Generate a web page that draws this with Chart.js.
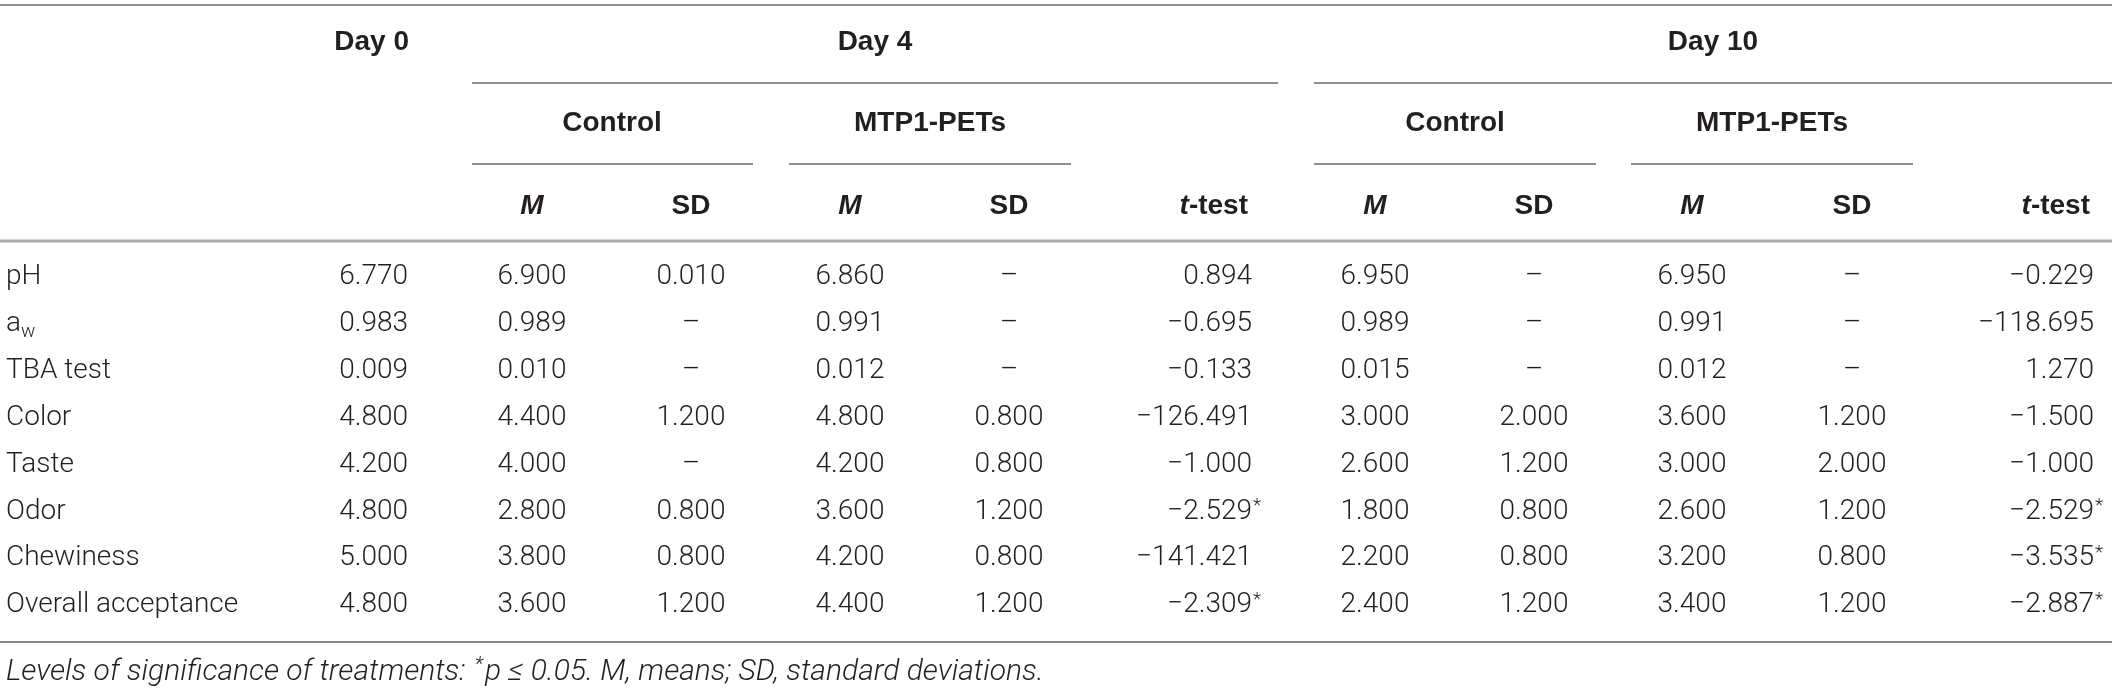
<!DOCTYPE html>
<html><head><meta charset="utf-8">
<script src="https://cdn.jsdelivr.net/npm/chart.js@4.4.1/dist/chart.umd.min.js"></script>
<style>html,body{margin:0;padding:0;background:#fff;overflow:hidden}#wrap{width:2118px;height:691px}</style>
</head><body><div id="wrap"><canvas id="c" width="2118" height="691"></canvas></div>
<script>
// ---- data ----
const rowLabels = ["pH", "a_w", "TBA test", "Color", "Taste", "Odor", "Chewiness", "Overall acceptance"];
const day0      = [6.770, 0.983, 0.009, 4.800, 4.200, 4.800, 5.000, 4.800];
const d4CtrlM   = [6.900, 0.989, 0.010, 4.400, 4.000, 2.800, 3.800, 3.600];
const d4CtrlSD  = [0.010, null, null, 1.200, null, 0.800, 0.800, 1.200];
const d4PetM    = [6.860, 0.991, 0.012, 4.800, 4.200, 3.600, 4.200, 4.400];
const d4PetSD   = [null, null, null, 0.800, 0.800, 1.200, 0.800, 1.200];
const d4T       = [0.894, -0.695, -0.133, -126.491, -1.000, -2.529, -141.421, -2.309];
const d4Sig     = [false, false, false, false, false, true, false, true];
const d10CtrlM  = [6.950, 0.989, 0.015, 3.000, 2.600, 1.800, 2.200, 2.400];
const d10CtrlSD = [null, null, null, 2.000, 1.200, 0.800, 0.800, 1.200];
const d10PetM   = [6.950, 0.991, 0.012, 3.600, 3.000, 2.600, 3.200, 3.400];
const d10PetSD  = [null, null, null, 1.200, 2.000, 1.200, 0.800, 1.200];
const d10T      = [-0.229, -118.695, 1.270, -1.500, -1.000, -2.529, -3.535, -2.887];
const d10Sig    = [false, false, false, false, false, true, true, true];
const dayHeaders = ["Day 0", "Day 4", "Day 10"];
const groupHeaders = ["Control", "MTP1-PETs", "Control", "MTP1-PETs"];
const footnote = ["Levels of significance of treatments: ", "*", "p \u2264 0.05. M, means; SD, standard deviations."];

// ---- layout (scale units = px of the 2118x691 frame) ----
const columns = [
  {vals: day0, x: 408, align: 'right'},
  {vals: d4CtrlM, x: 532, align: 'center', head: 'M'},
  {vals: d4CtrlSD, x: 691, align: 'center', head: 'SD'},
  {vals: d4PetM, x: 850, align: 'center', head: 'M'},
  {vals: d4PetSD, x: 1009, align: 'center', head: 'SD'},
  {vals: d4T, sig: d4Sig, x: 1252, align: 'right', head: 't'},
  {vals: d10CtrlM, x: 1375, align: 'center', head: 'M'},
  {vals: d10CtrlSD, x: 1534, align: 'center', head: 'SD'},
  {vals: d10PetM, x: 1692, align: 'center', head: 'M'},
  {vals: d10PetSD, x: 1852, align: 'center', head: 'SD'},
  {vals: d10T, sig: d10Sig, x: 2094, align: 'right', head: 't'}
];
const L = {
  labelX: 6, rowY0: 277, rowStep: 46.9,
  dayY: 42, groupY: 123, subY: 206, footY: 672,
  dayX: [409, 875, 1713], dayAlign: ['right', 'center', 'center'],
  groupX: [612, 930, 1455, 1772],
  lines: [
    {x1: 0, x2: 2112, y: 5, w: 2, c: '#8f8f8f'},
    {x1: 472, x2: 1278, y: 83, w: 2, c: '#8f8f8f'},
    {x1: 1314, x2: 2112, y: 83, w: 2, c: '#8f8f8f'},
    {x1: 472, x2: 753, y: 164, w: 2, c: '#8f8f8f'},
    {x1: 789, x2: 1071, y: 164, w: 2, c: '#8f8f8f'},
    {x1: 1314, x2: 1596, y: 164, w: 2, c: '#8f8f8f'},
    {x1: 1631, x2: 1913, y: 164, w: 2, c: '#8f8f8f'},
    {x1: 0, x2: 2112, y: 241, w: 3, c: '#ababab'},
    {x1: 0, x2: 2112, y: 642, w: 2, c: '#8a8a8a'}
  ]
};
const TXT = '#231f20';
const FONT_R = '300 28px Roboto, "Liberation Sans", sans-serif';
const FONT_SUP = '300 19px Roboto, "Liberation Sans", sans-serif';
const FONT_B = 'bold 28px "Liberation Sans", Arial, sans-serif';
const FONT_BI = 'italic bold 28px "Liberation Sans", Arial, sans-serif';
const FONT_I = 'italic 300 30px Roboto, "Liberation Sans", sans-serif';

function fmt(v) {
  if (v === null) return '\u2013';
  const s = Math.abs(v).toFixed(3);
  return v < 0 ? '\u2212' + s : s;
}

const tablePlugin = {
  id: 'table',
  afterDraw(chart) {
    const ctx = chart.ctx, sx = chart.scales.x, sy = chart.scales.y;
    const X = v => sx.getPixelForValue(v), Y = v => sy.getPixelForValue(v);
    ctx.save();
    // rules
    L.lines.forEach(l => {
      ctx.strokeStyle = l.c; ctx.lineWidth = l.w;
      ctx.beginPath(); ctx.moveTo(X(l.x1), Y(l.y)); ctx.lineTo(X(l.x2), Y(l.y)); ctx.stroke();
    });
    ctx.fillStyle = TXT;
    ctx.textBaseline = 'middle';
    // day headers
    ctx.font = FONT_B;
    dayHeaders.forEach((h, i) => { ctx.textAlign = L.dayAlign[i]; ctx.fillText(h, X(L.dayX[i]), Y(L.dayY)); });
    groupHeaders.forEach((h, i) => { ctx.textAlign = 'center'; ctx.fillText(h, X(L.groupX[i]), Y(L.groupY)); });
    // sub headers
    columns.forEach(c => {
      if (!c.head) return;
      const y = Y(L.subY);
      if (c.head === 'M') { ctx.font = FONT_BI; ctx.textAlign = 'center'; ctx.fillText('M', X(c.x), y); }
      else if (c.head === 'SD') { ctx.font = FONT_B; ctx.textAlign = 'center'; ctx.fillText('SD', X(c.x), y); }
      else {
        ctx.font = FONT_B; ctx.textAlign = 'right';
        const rest = '-test'; const w = ctx.measureText(rest).width;
        ctx.fillText(rest, X(c.x) - 4, y);
        ctx.font = FONT_BI; ctx.fillText('t', X(c.x) - 4 - w, y);
      }
    });
    // row labels
    ctx.font = FONT_R; ctx.textAlign = 'left';
    rowLabels.forEach((r, i) => {
      const y = Y(L.rowY0 + i * L.rowStep);
      if (r === 'a_w') {
        ctx.fillText('a', X(L.labelX), y);
        const w = ctx.measureText('a').width;
        ctx.font = FONT_SUP;
        ctx.fillText('w', X(L.labelX) + w, y + 8);
        ctx.font = FONT_R;
      } else ctx.fillText(r, X(L.labelX), y);
    });
    // cells
    columns.forEach(c => {
      c.vals.forEach((v, i) => {
        const y = Y(L.rowY0 + i * L.rowStep);
        const s = fmt(v);
        ctx.font = FONT_R;
        ctx.textAlign = c.align;
        ctx.fillText(s, X(c.x), y);
        if (c.sig && c.sig[i]) {
          ctx.font = FONT_SUP; ctx.textAlign = 'left';
          ctx.fillText('*', X(c.x) + 1, y - 5);
        }
      });
    });
    // footnote
    ctx.font = FONT_I; ctx.textAlign = 'left';
    let fx = X(L.labelX); const fy = Y(L.footY);
    ctx.fillText(footnote[0], fx, fy); fx += ctx.measureText(footnote[0]).width;
    ctx.font = 'italic 300 20px Roboto, "Liberation Sans", sans-serif';
    ctx.fillText(footnote[1], fx + 2, fy - 6); fx += ctx.measureText(footnote[1]).width + 4;
    ctx.font = FONT_I;
    ctx.fillText(footnote[2], fx, fy);
    ctx.restore();
  }
};

new Chart(document.getElementById('c'), {
  type: 'scatter',
  data: { datasets: [{ data: [], pointRadius: 0 }] },
  options: {
    responsive: false, animation: false, devicePixelRatio: 1,
    layout: { padding: 0 },
    plugins: { legend: { display: false }, tooltip: { enabled: false } },
    scales: {
      x: { type: 'linear', min: 0, max: 2118, display: false },
      y: { type: 'linear', min: 0, max: 691, reverse: true, display: false }
    }
  },
  plugins: [tablePlugin]
});
</script></body></html>
